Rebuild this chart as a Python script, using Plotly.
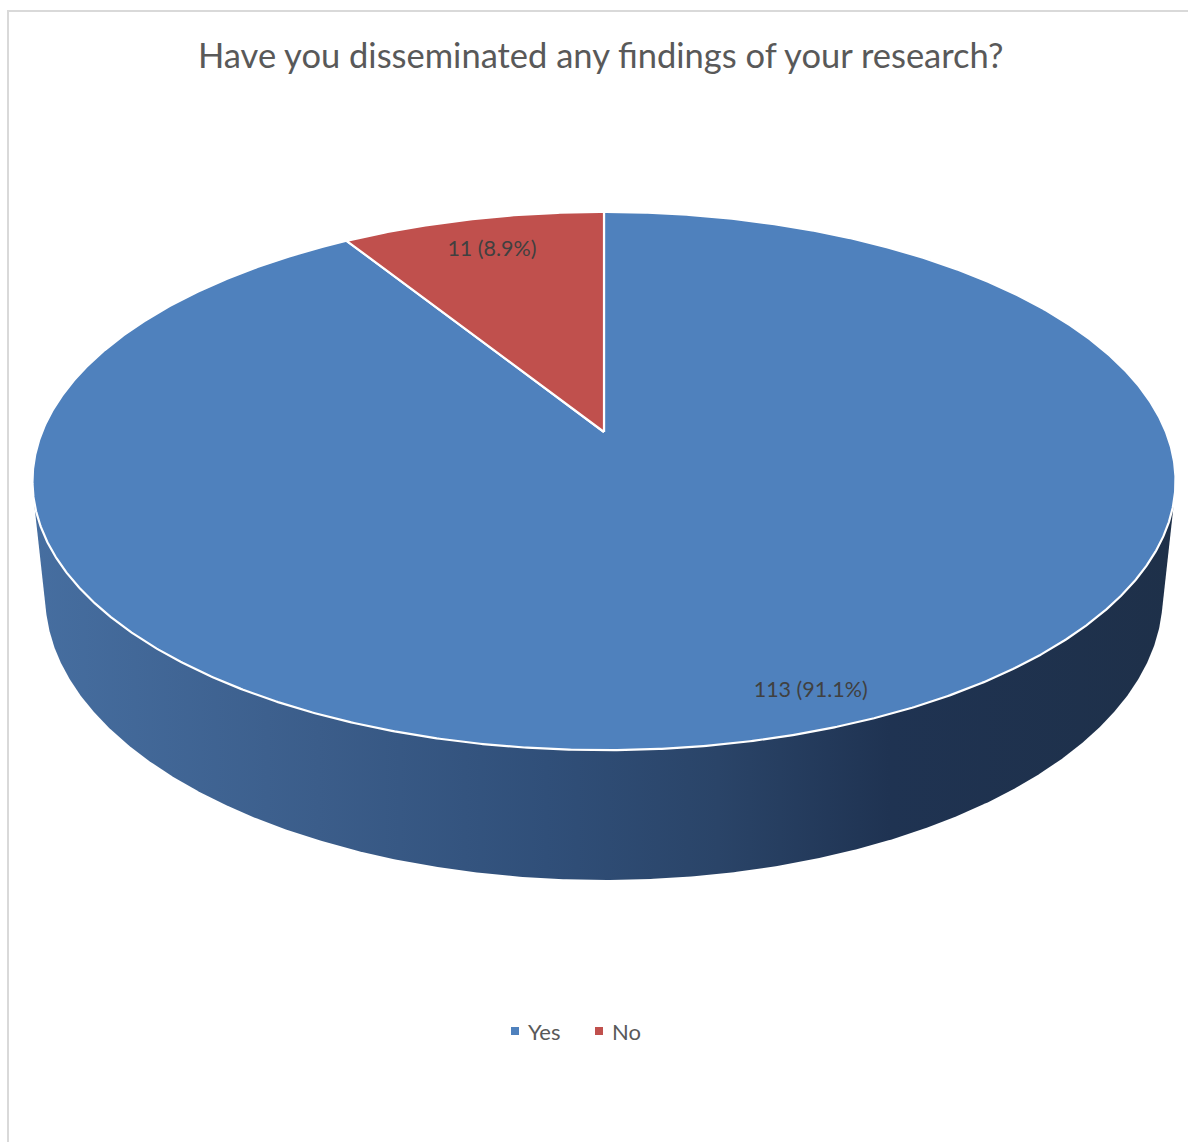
import numpy as np
import plotly.graph_objects as go

# ---- data ----
categories = ["Yes", "No"]
counts = [113, 11]
slice_colors = ["#4F81BD", "#C0504D"]
title_text = "Have you disseminated any findings of your research?"

# ---- label placement within each slice (fraction of slice span, radius) ----
label_frac = [0.487, 0.5]
label_radius = [0.90, 0.83]

# ---- canvas and 3D view ----
W, H = 1188, 1142
CX, CY = 604, 432          # projected centre of the top face
SCALE = 2734
DIST = 4.865               # camera distance (in pie radii)
ELEV = np.arcsin(0.463)    # camera elevation
THICK = 0.233              # pie thickness (in pie radii)
FONT = "Lato"


def project(X, Y, Z=0.0):
    """Perspective projection of a point on the pie (radius 1) into pixels."""
    sb, cb = np.sin(ELEV), np.cos(ELEV)
    depth = DIST + Y * cb - Z * sb
    xs = X / depth
    ys = (Y * sb + Z * cb) / depth
    return CX + SCALE * xs, CY - SCALE * ys


def convex_hull(px, py):
    pts = sorted(set(zip(np.round(px, 3), np.round(py, 3))))

    def cross(o, a, b):
        return (a[0] - o[0]) * (b[1] - o[1]) - (a[1] - o[1]) * (b[0] - o[0])

    lower, upper = [], []
    for p in pts:
        while len(lower) >= 2 and cross(lower[-2], lower[-1], p) <= 0:
            lower.pop()
        lower.append(p)
    for p in reversed(pts):
        while len(upper) >= 2 and cross(upper[-2], upper[-1], p) <= 0:
            upper.pop()
        upper.append(p)
    hull = lower[:-1] + upper[:-1]
    hull.append(hull[0])
    return [p[0] for p in hull], [p[1] for p in hull]


total = sum(counts)
fractions = [c / total for c in counts]

fig = go.Figure()

# ---- side wall: silhouette of the whole cylinder, top face drawn over it ----
phi = np.linspace(0, 2 * np.pi, 1441)
tx, ty = project(np.sin(phi), np.cos(phi), 0.0)
bx, by = project(np.sin(phi), np.cos(phi), -THICK)
hx, hy = convex_hull(np.concatenate([tx, bx]), np.concatenate([ty, by]))
fig.add_trace(go.Scatter(
    x=hx, y=hy, mode="lines", fill="toself",
    line=dict(width=0, color="rgba(0,0,0,0)"),
    fillgradient=dict(
        type="horizontal",
        colorscale=[
            [0.0, "#466ea0"],
            [0.25, "#3b5d8a"],
            [0.45, "#304f79"],
            [0.6, "#2a4468"],
            [0.75, "#1f3352"],
            [1.0, "#1e3049"],
        ],
    ),
    hoverinfo="skip", showlegend=False,
))

# ---- top face slices (clockwise from 12 o'clock) ----
start = 0.0
label_x, label_y, label_text = [], [], []
for i, (cat, cnt, frac, col) in enumerate(zip(categories, counts, fractions, slice_colors)):
    a0, a1 = start * 2 * np.pi, (start + frac) * 2 * np.pi
    ang = np.linspace(a0, a1, max(int(frac * 1440), 8))
    ax_, ay_ = project(np.sin(ang), np.cos(ang), 0.0)
    c0x, c0y = project(0.0, 0.0, 0.0)
    xs = [c0x] + list(ax_) + [c0x]
    ys = [c0y] + list(ay_) + [c0y]
    fig.add_trace(go.Scatter(
        x=xs, y=ys, mode="lines", fill="toself", fillcolor=col,
        line=dict(color="white", width=2.2),
        name=cat, hoverinfo="skip", showlegend=False,
    ))
    am = a0 + label_frac[i] * (a1 - a0)
    lx, ly = project(label_radius[i] * np.sin(am), label_radius[i] * np.cos(am), 0.0)
    label_x.append(lx)
    label_y.append(ly)
    label_text.append(f"{cnt} ({frac * 100:.1f}%)")
    start += frac

fig.add_trace(go.Scatter(
    x=label_x, y=label_y, mode="text", text=label_text,
    textfont=dict(family=FONT, size=21.5, color="#404040"),
    hoverinfo="skip", showlegend=False,
))

# ---- chart frame ----
fig.add_shape(type="rect", x0=8, y0=11, x1=W + 10, y1=H + 10,
              line=dict(color="#d9d9d9", width=2), layer="below")

# ---- legend ----
legend_x = [511, 595]
for cat, col, lx in zip(categories, slice_colors, legend_x):
    fig.add_shape(type="rect", x0=lx, x1=lx + 8, y0=1027, y1=1035,
                  fillcolor=col, line=dict(width=0))
    fig.add_annotation(x=lx + 15, y=1031, text=cat, showarrow=False,
                       xanchor="left", yanchor="middle",
                       font=dict(family=FONT, size=22, color="#595959"))

fig.add_annotation(x=600, y=54, text=title_text, showarrow=False,
                   xanchor="center", yanchor="middle",
                   font=dict(family=FONT, size=34.5, color="#595959"))

fig.update_xaxes(range=[0, W], visible=False, fixedrange=True)
fig.update_yaxes(range=[H, 0], visible=False, fixedrange=True)
fig.update_layout(
    width=W, height=H,
    margin=dict(l=0, r=0, t=0, b=0),
    paper_bgcolor="white", plot_bgcolor="white",
    showlegend=False,
)

fig.write_html("out.html")
